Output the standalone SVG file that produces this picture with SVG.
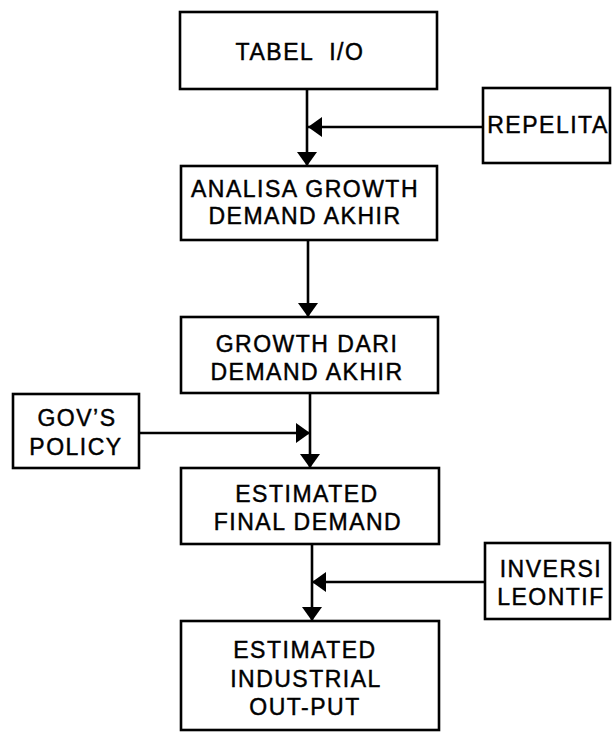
<svg xmlns="http://www.w3.org/2000/svg" width="613" height="732" viewBox="0 0 613 732">
<defs>
<style>
.box{fill:#fff;stroke:#000;stroke-width:2.6}
.lbl{font-family:"Liberation Sans",Arial,sans-serif;font-size:23px;letter-spacing:1.5px;text-anchor:middle;fill:#000;stroke:#000;stroke-width:0.45;white-space:pre}
.con{fill:none;stroke:#000;stroke-width:2.6}
</style>
<marker id="ah" viewBox="0 0 14 20" refX="14" refY="10" markerWidth="14" markerHeight="20" markerUnits="userSpaceOnUse" orient="auto">
<path d="M0,0 L14,10 L0,20 z" fill="#000"/>
</marker>
</defs>
<rect width="613" height="732" fill="#fff"/>
<g id="connectors">
<line class="con" x1="307" y1="89" x2="307" y2="166" marker-end="url(#ah)"/>
<line class="con" x1="483" y1="127" x2="308" y2="127" marker-end="url(#ah)"/>
<line class="con" x1="308" y1="240" x2="308" y2="317" marker-end="url(#ah)"/>
<line class="con" x1="310" y1="393" x2="310" y2="468" marker-end="url(#ah)"/>
<line class="con" x1="139" y1="433" x2="310" y2="433" marker-end="url(#ah)"/>
<line class="con" x1="312" y1="544" x2="312" y2="621" marker-end="url(#ah)"/>
<line class="con" x1="485" y1="582" x2="312" y2="582" marker-end="url(#ah)"/>
</g>
<g id="tabel">
<rect class="box" x="180" y="12" width="257" height="77"/>
<text class="lbl" x="300" y="60">TABEL  I/O</text>
</g>
<g id="repelita">
<rect class="box" x="483" y="88" width="127" height="75"/>
<text class="lbl" x="548" y="133">REPELITA</text>
</g>
<g id="analisa">
<rect class="box" x="181" y="166" width="256" height="74"/>
<text class="lbl" x="305" y="197">ANALISA GROWTH</text>
<text class="lbl" x="305" y="224">DEMAND AKHIR</text>
</g>
<g id="growth">
<rect class="box" x="181" y="317" width="257" height="76"/>
<text class="lbl" x="307" y="352">GROWTH DARI</text>
<text class="lbl" x="307" y="380">DEMAND AKHIR</text>
</g>
<g id="gov">
<rect class="box" x="13" y="394" width="126" height="74"/>
<text class="lbl" x="77" y="426">GOV’S</text>
<text class="lbl" x="76" y="455">POLICY</text>
</g>
<g id="final">
<rect class="box" x="181" y="468" width="258" height="76"/>
<text class="lbl" x="307" y="502">ESTIMATED</text>
<text class="lbl" x="308" y="530">FINAL DEMAND</text>
</g>
<g id="inversi">
<rect class="box" x="485" y="543" width="125" height="76"/>
<text class="lbl" x="551" y="577">INVERSI</text>
<text class="lbl" x="551" y="605">LEONTIF</text>
</g>
<g id="output">
<rect class="box" x="181" y="621" width="258" height="109"/>
<text class="lbl" x="305" y="658">ESTIMATED</text>
<text class="lbl" x="306" y="687">INDUSTRIAL</text>
<text class="lbl" x="305" y="715">OUT-PUT</text>
</g>
</svg>
